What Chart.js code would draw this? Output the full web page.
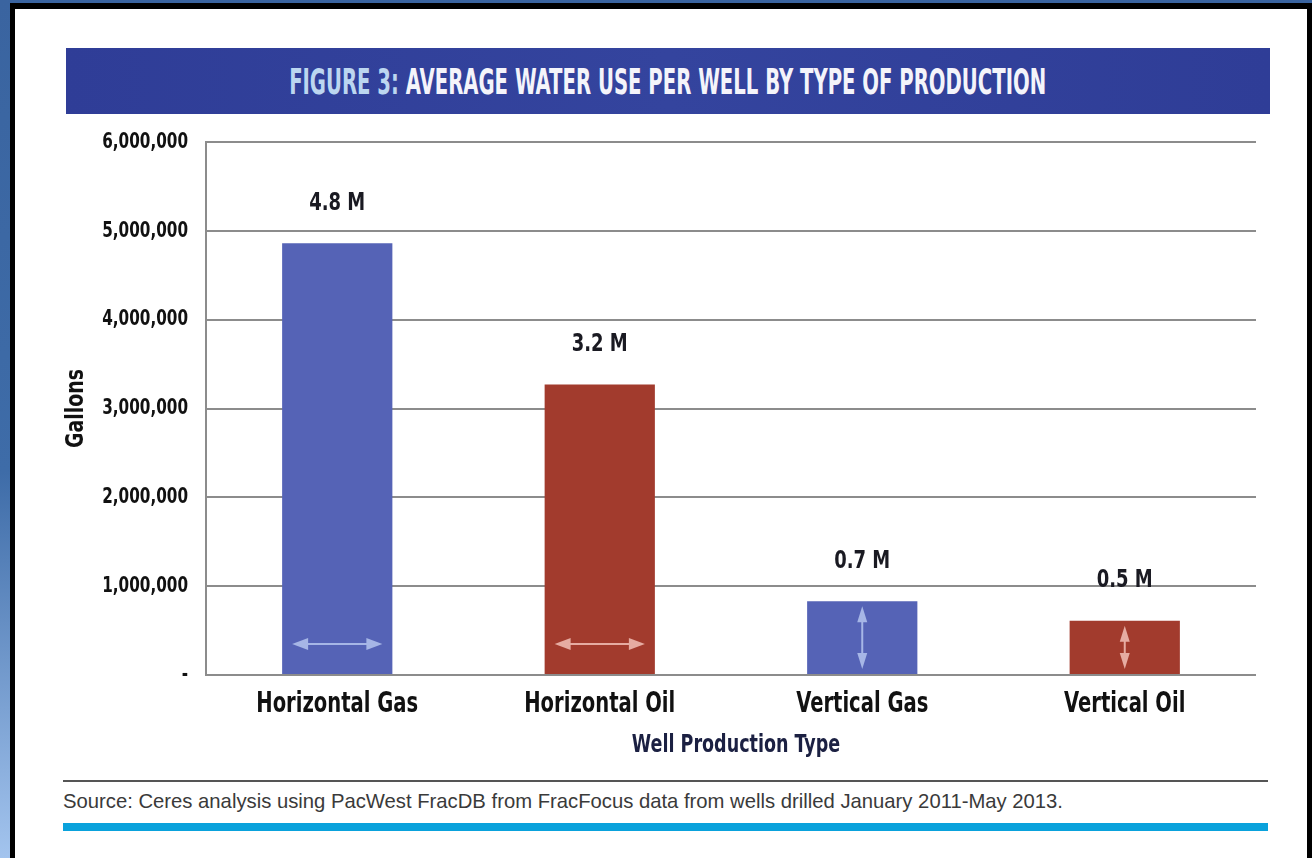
<!DOCTYPE html>
<html>
<head>
<meta charset="utf-8">
<script src="https://cdn.jsdelivr.net/npm/chart.js@4.4.1/dist/chart.umd.min.js"></script>
<style>
  html, body { margin: 0; padding: 0; }
  body {
    width: 1312px; height: 858px; overflow: hidden; position: relative;
    background: linear-gradient(to bottom, #3a64a0 0%, #3e6ca8 55%, #a3c4ee 100%);
  }
  #frame { position: absolute; left: 10px; top: 3px; width: 1302px; height: 870px; background: #000; }
  #panel { position: absolute; left: 15px; top: 9px; width: 1292px; height: 870px; background: #fff; }
  #banner {
    position: absolute; left: 66px; top: 48px; width: 1204px; height: 66px;
    background: linear-gradient(to right, #2f3d97, #34449e 50%, #2f3d97);
    display: flex; align-items: center; justify-content: center; overflow: hidden;
  }
  #banner span {
    display: inline-block; white-space: nowrap;
    font: bold 36px 'DejaVu Sans Condensed', sans-serif;
    color: #f4f4fa; transform-origin: center center;
  }
  #banner b { color: #bcd6f0; }
  #rule { position: absolute; left: 63px; top: 780px; width: 1205px; height: 2px; background: #555; }
  #source {
    position: absolute; left: 63px; top: 789px; white-space: nowrap;
    font: 21px 'Liberation Sans', sans-serif; color: #3a3a3a;
    transform-origin: left center;
  }
  #cyan { position: absolute; left: 63px; top: 823px; width: 1205px; height: 8px; background: #0aa2dc; }
  #wrap { position: absolute; left: 0; top: 0; width: 1312px; height: 858px; }
</style>
</head>
<body>
<div id="frame"></div>
<div id="panel"></div>
<div id="banner"><span id="title"><b>FIGURE 3:</b> AVERAGE WATER USE PER WELL BY TYPE OF PRODUCTION</span></div>
<div id="rule"></div>
<div id="source">Source: Ceres analysis using PacWest FracDB from FracFocus data from wells drilled January 2011-May 2013.</div>
<div id="cyan"></div>
<div id="wrap"><canvas id="chart" width="1312" height="858"></canvas></div>
<script>
var categories = ['Horizontal Gas', 'Horizontal Oil', 'Vertical Gas', 'Vertical Oil'];
var gallons = [4860000, 3270000, 830000, 610000];
var valueLabels = ['4.8 M', '3.2 M', '0.7 M', '0.5 M'];
var yTickLabels = ['-', '1,000,000', '2,000,000', '3,000,000', '4,000,000', '5,000,000', '6,000,000'];
var xTitle = 'Well Production Type';
var yTitle = 'Gallons';

var BLUE = '#5563b6';
var RED = '#a23b2d';
var barColors = [BLUE, RED, BLUE, RED];
var arrowColors = ['#a6b6e6', '#e6aca2', '#a6b6e6', '#e6aca2'];
var FONT = "'DejaVu Sans Condensed', sans-serif";

// squeeze / stretch a text block to the width it has in the figure
function fitWidth(el, target) {
	var w = el.getBoundingClientRect().width;
	el.style.transform = 'scaleX(' + (target / w) + ')';
}
fitWidth(document.getElementById('title'), 757);
fitWidth(document.getElementById('source'), 1000);

// the figure uses a very narrow bold face, so squeeze the canvas text
function narrowText(ctx, text, x, y, size, align, color, sx, rotate) {
	ctx.save();
	ctx.translate(x, y);
	if (rotate) ctx.rotate(-Math.PI / 2);
	ctx.scale(sx, 1);
	ctx.font = 'bold ' + size + 'px ' + FONT;
	ctx.textAlign = align;
	ctx.textBaseline = 'middle';
	ctx.fillStyle = color;
	ctx.fillText(text, 0, 0);
	ctx.restore();
}

var axisText = {
	id: 'axisText',
	afterDraw: function (chart) {
		var ctx = chart.ctx;
		var area = chart.chartArea;
		var xs = chart.scales.x, ys = chart.scales.y;
		ys.ticks.forEach(function (t, i) {
			narrowText(ctx, yTickLabels[i], area.left - 18, ys.getPixelForTick(i), 22, 'right', '#111', 0.77);
		});
		xs.ticks.forEach(function (t, i) {
			narrowText(ctx, categories[i], xs.getPixelForTick(i), area.bottom + 29, 29, 'center', '#111', 0.75);
		});
		narrowText(ctx, xTitle, (area.left + area.right) / 2 + 5, area.bottom + 70, 25, 'center', '#1b2042', 0.78);
		narrowText(ctx, yTitle, 76, (area.top + area.bottom) / 2, 25, 'center', '#111', 0.84, true);
	}
};

var decorations = {
	id: 'decorations',
	afterDatasetsDraw: function (chart) {
		var ctx = chart.ctx;
		var meta = chart.getDatasetMeta(0);
		meta.data.forEach(function (bar, i) {
			var half = bar.width / 2;
			ctx.save();
			ctx.strokeStyle = arrowColors[i];
			ctx.fillStyle = arrowColors[i];
			ctx.lineWidth = 2;
			if (categories[i].indexOf('Horizontal') === 0) {
				// horizontal double arrow near the base
				var y = bar.base - 30;
				var x1 = bar.x - half + 10, x2 = bar.x + half - 10;
				ctx.beginPath(); ctx.moveTo(x1 + 8, y); ctx.lineTo(x2 - 8, y); ctx.stroke();
				ctx.beginPath(); ctx.moveTo(x1, y); ctx.lineTo(x1 + 16, y - 6); ctx.lineTo(x1 + 16, y + 6); ctx.closePath(); ctx.fill();
				ctx.beginPath(); ctx.moveTo(x2, y); ctx.lineTo(x2 - 16, y - 6); ctx.lineTo(x2 - 16, y + 6); ctx.closePath(); ctx.fill();
			} else {
				// vertical double arrow through the bar
				var x = bar.x;
				var y1 = bar.y + 5, y2 = bar.base - 5;
				ctx.beginPath(); ctx.moveTo(x, y1 + 8); ctx.lineTo(x, y2 - 8); ctx.stroke();
				ctx.beginPath(); ctx.moveTo(x, y1); ctx.lineTo(x - 5, y1 + 16); ctx.lineTo(x + 5, y1 + 16); ctx.closePath(); ctx.fill();
				ctx.beginPath(); ctx.moveTo(x, y2); ctx.lineTo(x - 5, y2 - 16); ctx.lineTo(x + 5, y2 - 16); ctx.closePath(); ctx.fill();
			}
			ctx.restore();
			// value label above the bar
			narrowText(ctx, valueLabels[i], bar.x, bar.y - 40, 25, 'center', '#1a1a22', 0.8);
		});
	}
};

new Chart(document.getElementById('chart'), {
	type: 'bar',
	data: {
		labels: categories,
		datasets: [{
			data: gallons,
			backgroundColor: barColors,
			borderWidth: 0,
			barPercentage: 0.42,
			categoryPercentage: 1.0
		}]
	},
	options: {
		responsive: false,
		animation: false,
		layout: { padding: { left: 60, top: 142, right: 56, bottom: 88 } },
		plugins: {
			legend: { display: false },
			tooltip: { enabled: false }
		},
		scales: {
			x: {
				grid: { display: false, drawTicks: false },
				border: { display: false },
				ticks: { display: false },
				afterFit: function (scale) { scale.height = 95; }
			},
			y: {
				min: 0,
				max: 6000000,
				grid: { color: '#8c8c8c', lineWidth: 2, drawTicks: false },
				border: { display: true, color: '#8c8c8c', width: 2 },
				ticks: { stepSize: 1000000, display: false },
				afterFit: function (scale) { scale.width = 146; }
			}
		}
	},
	plugins: [decorations, axisText]
});
</script>
</body>
</html>
